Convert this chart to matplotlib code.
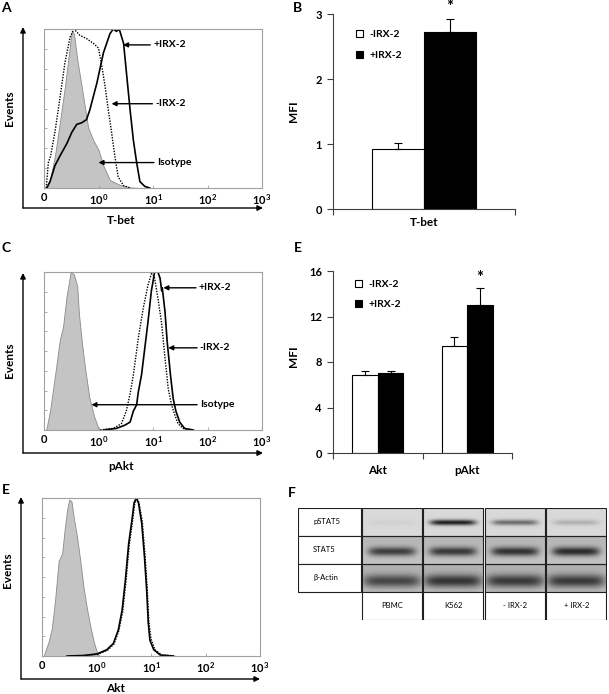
import numpy as np
import matplotlib
matplotlib.use('Agg')
import matplotlib.pyplot as plt
from matplotlib.patches import Rectangle, FancyArrowPatch, Patch

plt.rcParams['font.family'] = ['Lato', 'DejaVu Sans']
plt.rcParams['font.weight'] = 'bold'
plt.rcParams['axes.labelweight'] = 'bold'
plt.rcParams['mathtext.fontset'] = 'custom'
plt.rcParams['mathtext.rm'] = 'Lato:bold'
plt.rcParams['mathtext.bf'] = 'Lato:bold'
plt.rcParams['mathtext.it'] = 'Lato:bold'

W, H = 609, 694

# ---------------- data ----------------
# flow histograms: x in decades (0 -> "0", 1 -> 10^0 ... 4 -> 10^3), y = relative events
tbet_iso_x = [0.05, 0.11, 0.20, 0.29, 0.385, 0.46, 0.51, 0.55, 0.61, 0.69, 0.75, 0.81, 0.905, 1.0, 1.09, 1.21, 1.39, 1.58, 1.76]
tbet_iso_y = [0, 0.05, 0.20, 0.41, 0.64, 0.85, 0.99, 0.97, 0.81, 0.64, 0.51, 0.38, 0.30, 0.24, 0.14, 0.05, 0.02, 0.004, 0]
tbet_minus_x = [0.04, 0.08, 0.12, 0.20, 0.29, 0.385, 0.48, 0.55, 0.66, 0.78, 0.905, 1.0, 1.06, 1.12, 1.18, 1.24, 1.30, 1.36, 1.46, 1.58]
tbet_minus_y = [0, 0.16, 0.20, 0.35, 0.56, 0.79, 0.95, 1.0, 0.96, 0.94, 0.91, 0.88, 0.77, 0.64, 0.49, 0.35, 0.20, 0.07, 0.015, 0]
tbet_plus_x = [0.05, 0.11, 0.20, 0.29, 0.42, 0.51, 0.60, 0.69, 0.78, 0.84, 0.97, 1.09, 1.21, 1.27, 1.33, 1.38, 1.46, 1.52, 1.58, 1.64, 1.70, 1.76, 1.85, 1.94]
tbet_plus_y = [0, 0.04, 0.14, 0.20, 0.28, 0.35, 0.40, 0.41, 0.43, 0.49, 0.66, 0.85, 0.97, 1.0, 0.985, 1.0, 0.91, 0.70, 0.49, 0.30, 0.16, 0.04, 0.01, 0]

pakt_iso_x = [0.04, 0.11, 0.20, 0.29, 0.35, 0.415, 0.49, 0.55, 0.61, 0.64, 0.69, 0.75, 0.83, 0.92, 1.0, 1.06]
pakt_iso_y = [0, 0.12, 0.34, 0.57, 0.655, 0.85, 1.0, 0.985, 0.91, 0.74, 0.57, 0.40, 0.21, 0.085, 0.01, 0]
pakt_minus_x = [1.03, 1.27, 1.42, 1.51, 1.58, 1.64, 1.73, 1.82, 1.91, 1.98, 2.03, 2.09, 2.16, 2.22, 2.28, 2.34, 2.40, 2.46, 2.55, 2.67]
pakt_minus_y = [0, 0.01, 0.04, 0.12, 0.23, 0.35, 0.58, 0.77, 0.92, 1.0, 0.96, 0.835, 0.67, 0.455, 0.26, 0.16, 0.095, 0.04, 0.01, 0]
pakt_plus_x = [1.09, 1.33, 1.48, 1.58, 1.64, 1.70, 1.73, 1.79, 1.85, 1.91, 1.97, 2.03, 2.09, 2.13, 2.16, 2.17, 2.22, 2.26, 2.32, 2.37, 2.42, 2.49, 2.58, 2.74]
pakt_plus_y = [0, 0.01, 0.03, 0.05, 0.12, 0.16, 0.24, 0.35, 0.52, 0.69, 0.88, 1.0, 1.0, 0.96, 0.88, 0.90, 0.75, 0.56, 0.35, 0.20, 0.12, 0.05, 0.01, 0]

akt_iso_x = [0.03, 0.12, 0.18, 0.24, 0.305, 0.37, 0.415, 0.46, 0.50, 0.54, 0.59, 0.64, 0.70, 0.76, 0.82, 0.885, 0.95, 1.01, 1.06]
akt_iso_y = [0, 0.09, 0.175, 0.355, 0.60, 0.65, 0.80, 0.925, 0.99, 0.98, 0.86, 0.76, 0.61, 0.44, 0.31, 0.19, 0.09, 0.02, 0]
akt_minus_x = [0.50, 0.80, 1.03, 1.20, 1.32, 1.41, 1.48, 1.54, 1.60, 1.66, 1.70, 1.74, 1.78, 1.84, 1.89, 1.93, 1.96, 2.00, 2.07, 2.20, 2.45]
akt_minus_y = [0, 0.003, 0.012, 0.035, 0.075, 0.16, 0.28, 0.47, 0.70, 0.85, 0.96, 1.0, 0.97, 0.85, 0.64, 0.43, 0.22, 0.11, 0.04, 0.006, 0]
akt_plus_x = [0.46, 0.76, 1.01, 1.19, 1.31, 1.40, 1.47, 1.53, 1.59, 1.65, 1.69, 1.73, 1.77, 1.83, 1.88, 1.92, 1.95, 1.98, 2.05, 2.17, 2.41]
akt_plus_y = [0, 0.003, 0.013, 0.04, 0.08, 0.165, 0.29, 0.48, 0.71, 0.86, 0.97, 1.0, 0.97, 0.84, 0.63, 0.42, 0.21, 0.10, 0.04, 0.006, 0]

hist_ticks = [0, 1, 2, 3, 4]
hist_ticklabels = ['0', r'$\mathbf{10^0}$', r'$\mathbf{10^1}$', r'$\mathbf{10^2}$', r'$\mathbf{10^3}$']

# arrows inside histograms: (label, arrow head x, text x, y)
tbet_notes = [('+IRX-2', 1.45, 2.0, 0.90), ('-IRX-2', 1.24, 2.04, 0.53), ('Isotype', 1.0, 2.07, 0.16)]
pakt_notes = [('+IRX-2', 2.19, 2.84, 0.90), ('-IRX-2', 2.28, 2.86, 0.52), ('Isotype', 0.87, 2.86, 0.16)]

# MFI bar charts
series = ['-IRX-2', '+IRX-2']
tbet_mfi = [0.92, 2.73]
tbet_err = [0.10, 0.20]
akt_groups = ['Akt', 'pAkt']
akt_mfi_minus = [6.90, 9.43]
akt_err_minus = [0.30, 0.80]
akt_mfi_plus = [7.05, 13.0]
akt_err_plus = [0.20, 1.53]

# western blot (band darkness per lane)
blot_lanes = ['PBMC', 'K562', '- IRX-2', '+ IRX-2']
blot_rows = ['pSTAT5', 'STAT5', u'\u03b2-Actin']
pstat5_band = [0.03, 0.72, 0.42, 0.15]
stat5_band = [0.50, 0.52, 0.55, 0.58]
actin_band = [0.45, 0.52, 0.50, 0.50]

# ---------------- figure ----------------
fig = plt.figure(figsize=(W / 100, H / 100), dpi=100)


def rect(x0, y0, x1, y1):
    return [x0 / W, 1 - y1 / H, (x1 - x0) / W, (y1 - y0) / H]


def ftext(x, y, s, **kw):
    fig.text(x / W, 1 - y / H, s, **kw)


def farrow(x0, y0, x1, y1):
    fig.add_artist(FancyArrowPatch((x0 / W, 1 - y0 / H), (x1 / W, 1 - y1 / H),
                                   transform=fig.transFigure, arrowstyle='-|>',
                                   mutation_scale=8, lw=1.0, color='k',
                                   shrinkA=0, shrinkB=0))


def bold_ticks(ax):
    for lab in ax.get_xticklabels() + ax.get_yticklabels():
        lab.set_fontweight('bold')


def histo(box, iso, minus, plus, notes):
    ax = fig.add_axes(rect(*box))
    ax.fill_between(iso[0], iso[1], color='#c4c4c4', edgecolor='#8a8a8a', lw=0.6)
    ax.plot(plus[0], plus[1], color='k', lw=1.2)
    ax.plot(minus[0], minus[1], color='k', lw=1.0, ls=(0, (1, 1)))
    ax.set_xlim(0, 4)
    ax.set_ylim(0, 1)
    for s in ax.spines.values():
        s.set_color('#a0a0a0')
        s.set_linewidth(0.8)
    ax.set_xticks(hist_ticks, hist_ticklabels)
    ax.set_yticks(np.linspace(0, 1, 9)[1:-1], [])
    ax.tick_params(axis='y', direction='in', length=2, color='#a0a0a0', width=0.6)
    ax.tick_params(axis='x', direction='in', length=2, color='#a0a0a0', width=0.6,
                   pad=3, labelsize=8)
    bold_ticks(ax)
    for lab, xh, xt, y in notes:
        ax.annotate(lab, xy=(xh, y), xytext=(xt, y), ha='left', va='center',
                    fontsize=7.5, fontweight='bold',
                    arrowprops=dict(arrowstyle='-|>', color='k', lw=1.0,
                                    mutation_scale=7, shrinkA=0, shrinkB=0,
                                    relpos=(0, 0.5)))
    return ax


histo((44, 29, 262, 188), (tbet_iso_x, tbet_iso_y), (tbet_minus_x, tbet_minus_y),
      (tbet_plus_x, tbet_plus_y), tbet_notes)
histo((44, 272, 262, 430), (pakt_iso_x, pakt_iso_y), (pakt_minus_x, pakt_minus_y),
      (pakt_plus_x, pakt_plus_y), pakt_notes)
histo((42, 498, 260, 656), (akt_iso_x, akt_iso_y), (akt_minus_x, akt_minus_y),
      (akt_plus_x, akt_plus_y), [])

# outer axis arrows
farrow(23, 208, 23, 27)
farrow(23, 208, 263, 208)
farrow(23, 453, 23, 273)
farrow(23, 453, 263, 453)
farrow(21, 679, 21, 497)
farrow(21, 679, 260, 679)

ftext(10, 108, 'Events', rotation=90, ha='center', va='center', fontsize=8.5)
ftext(10, 360, 'Events', rotation=90, ha='center', va='center', fontsize=8.5)
ftext(8, 570, 'Events', rotation=90, ha='center', va='center', fontsize=8.5)
ftext(121, 220, 'T-bet', ha='center', va='center', fontsize=8.5)
ftext(121, 467, 'pAkt', ha='center', va='center', fontsize=8.5)
ftext(115, 689, 'Akt', ha='center', va='center', fontsize=8.5)

# panel letters
for lx, ly, lt in [(6, 8, 'A'), (298, 8, 'B'), (6, 248, 'C'), (298, 248, 'E'),
                   (6, 490, 'E'), (292, 493, 'F')]:
    ftext(lx, ly, lt, ha='center', va='center', fontsize=10)


def style_bar_axes(ax):
    for s in ['top', 'right']:
        ax.spines[s].set_visible(False)
    for s in ['left', 'bottom']:
        ax.spines[s].set_color('#404040')
        ax.spines[s].set_linewidth(0.8)
    ax.tick_params(axis='y', direction='out', length=4, width=0.8, color='#404040',
                   labelsize=8, pad=4)
    ax.tick_params(axis='x', which='major', length=0, labelsize=8.5)
    ax.tick_params(axis='x', which='minor', direction='out', length=4, width=0.8,
                   color='#404040')
    ax.set_ylabel('MFI', fontsize=8.5, fontweight='bold')
    bold_ticks(ax)


legend_kw = dict(loc='upper left', frameon=False, prop={'size': 7.5, 'weight': 'bold'},
                 handlelength=0.7, handleheight=0.7, handletextpad=0.6,
                 borderpad=0, borderaxespad=0)

# panel B
bw = 0.286
axb = fig.add_axes(rect(333, 14, 515, 209))
axb.bar(-bw / 2, tbet_mfi[0], bw, color='white', edgecolor='k', lw=0.8, label=series[0])
axb.bar(bw / 2, tbet_mfi[1], bw, color='black', edgecolor='k', lw=0.8, label=series[1])
axb.errorbar([-bw / 2, bw / 2], tbet_mfi, yerr=[[0, 0], tbet_err], fmt='none',
             ecolor='k', elinewidth=0.8, capsize=3, capthick=0.8)
axb.set_xlim(-0.5, 0.5)
axb.set_ylim(0, 3)
axb.set_yticks([0, 1, 2, 3])
axb.set_xticks([0], ['T-bet'])
axb.set_xticks([-0.5, 0.5], minor=True)
style_bar_axes(axb)
axb.tick_params(axis='x', which='major', pad=6)
axb.yaxis.set_label_coords(-0.187, 0.5)
axb.text(bw / 2, tbet_mfi[1] + tbet_err[1] + 0.06, '*', ha='center', va='bottom',
         fontsize=12)
axb.legend(handles=[Patch(facecolor='white', edgecolor='k', lw=0.8, label=series[0]),
                    Patch(facecolor='black', edgecolor='k', lw=0.8, label=series[1])],
           bbox_to_anchor=((356 - 333) / 182, (209 - 30) / 195), labelspacing=1.1,
           **legend_kw)

# panel E (bars)
axe = fig.add_axes(rect(333, 271, 512, 453))
xg = np.arange(len(akt_groups))
axe.bar(xg - bw / 2, akt_mfi_minus, bw, color='white', edgecolor='k', lw=0.8)
axe.bar(xg + bw / 2, akt_mfi_plus, bw, color='black', edgecolor='k', lw=0.8)
axe.errorbar(xg - bw / 2, akt_mfi_minus, yerr=[[0, 0], akt_err_minus], fmt='none',
             ecolor='k', elinewidth=0.8, capsize=3, capthick=0.8)
axe.errorbar(xg + bw / 2, akt_mfi_plus, yerr=[[0, 0], akt_err_plus], fmt='none',
             ecolor='k', elinewidth=0.8, capsize=3, capthick=0.8)
axe.set_xlim(-0.5, 1.5)
axe.set_ylim(0, 16)
axe.set_yticks([0, 4, 8, 12, 16])
axe.set_xticks(xg, akt_groups)
axe.set_xticks([-0.5, 0.5, 1.5], minor=True)
style_bar_axes(axe)
axe.tick_params(axis='x', which='major', pad=9)
axe.yaxis.set_label_coords(-0.19, 0.53)
axe.text(1 + bw / 2, akt_mfi_plus[1] + akt_err_plus[1] + 0.15, '*', ha='center',
         va='bottom', fontsize=12)
axe.legend(handles=[Patch(facecolor='white', edgecolor='k', lw=0.8, label=series[0]),
                    Patch(facecolor='black', edgecolor='k', lw=0.8, label=series[1])],
           bbox_to_anchor=((355 - 333) / 179, (453 - 280) / 182), labelspacing=1.0,
           **legend_kw)

# panel F: western blot
axf = fig.add_axes(rect(298, 508, 607, 619.5))
label_w, lane_w, gap, row_h = 63, 60, 1.5, 27.8
axf.axis('off')

row_bg = [0.85, 0.74, 0.72]
row_sigma = [2.8, 4.5, 6.5]
row_yc = [14, 15, 16.5]
row_wid = [0.78, 0.80, 0.98]
bands = [pstat5_band, stat5_band, actin_band]
xx = np.linspace(-1, 1, 60)
yy = np.arange(28)
for r, name in enumerate(blot_rows):
    y0 = r * row_h
    axf.add_patch(Rectangle((0, y0), label_w, row_h, fc='white', ec='#202020', lw=0.8))
    axf.text(15, y0 + row_h / 2, name, ha='left', va='center', fontsize=5.5,
             fontweight='normal')
    for i in range(len(blot_lanes)):
        x0 = label_w + i * (lane_w + gap) + gap / 2
        px = np.exp(-(np.abs(xx) / row_wid[r]) ** 6)
        py = np.exp(-((yy - row_yc[r]) / row_sigma[r]) ** 2)
        shade = row_bg[r] + 0.06 * (yy[:, None] / 28.0 - 0.5) * (r > 0)
        img = shade - bands[r][i] * np.outer(py, px)
        axf.imshow(img, cmap='gray', vmin=0, vmax=1, aspect='auto',
                   interpolation='bilinear', extent=(x0, x0 + lane_w, y0 + row_h, y0),
                   zorder=1)
        axf.add_patch(Rectangle((x0, y0), lane_w, row_h, fc='none', ec='#202020',
                                lw=0.8, zorder=2))
for i, lane in enumerate(blot_lanes):
    x0 = label_w + i * (lane_w + gap) + gap / 2
    axf.add_patch(Rectangle((x0, 3 * row_h), lane_w, row_h, fc='white', ec='#202020',
                            lw=0.8, zorder=2))
    axf.text(x0 + lane_w / 2, 3.5 * row_h, lane, ha='center', va='center',
             fontsize=5.5, fontweight='normal', zorder=3)
axf.set_xlim(0, label_w + 4 * (lane_w + gap))
axf.set_ylim(4 * row_h, 0)

fig.savefig('out.png', dpi=100)
